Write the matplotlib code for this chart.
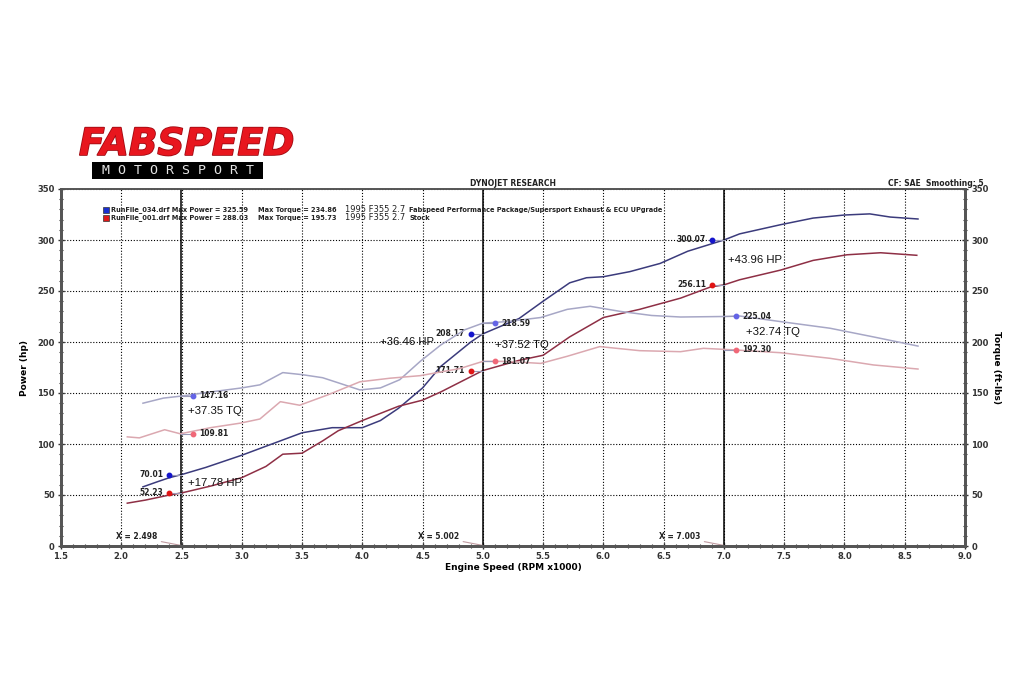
import matplotlib
matplotlib.use("Agg")
import matplotlib.pyplot as plt
import matplotlib.patheffects as pe
from matplotlib.patches import Rectangle
from matplotlib.ticker import MultipleLocator

# RunFile_034 (Fabspeed package) power curve, rpm x1000 / hp
mod_rpm_hp = [2.18, 2.3, 2.4, 2.5, 2.7, 3.0, 3.25, 3.5, 3.75, 4.0, 4.15, 4.3, 4.5, 4.65,
              4.9, 5.0, 5.3, 5.5, 5.72, 5.86, 6.0, 6.22, 6.47, 6.7, 7.0, 7.13, 7.47, 7.74,
              8.0, 8.21, 8.38, 8.61]
mod_hp = [58, 63, 67, 70, 77, 89, 100, 111, 116, 116, 123, 135, 155, 176,
          200, 208, 223, 240, 258, 263, 264, 269, 277, 289, 300, 306, 315, 321.5,
          324.5, 325.6, 322.5, 320.6]

# RunFile_001 (stock) power curve
stock_rpm_hp = [2.05, 2.2, 2.4, 2.5, 2.75, 3.0, 3.2, 3.34, 3.5, 3.67, 3.8, 4.0, 4.3, 4.5,
                4.65, 5.0, 5.3, 5.5, 5.72, 6.0, 6.3, 6.64, 6.89, 7.0, 7.13, 7.47, 7.74,
                8.02, 8.3, 8.6]
stock_hp = [42, 45, 50, 52, 59, 67, 78, 90, 91, 103, 113, 123, 137, 143,
            151, 172, 182, 187, 205, 224, 232, 243, 254, 256, 261, 270.5, 280,
            285.5, 287.5, 285]

# torque curves, ft-lbs
mod_rpm_tq = [2.18, 2.35, 2.5, 2.74, 3.0, 3.15, 3.34, 3.5, 3.67, 3.8, 3.98, 4.15, 4.31,
              4.48, 4.65, 4.85, 5.0, 5.2, 5.48, 5.7, 5.89, 6.14, 6.4, 6.64, 7.0, 7.13,
              7.47, 7.88, 8.24, 8.61]
mod_tq = [140, 145, 147, 151, 155, 158, 170, 168, 165, 160, 153, 155, 163,
          181, 197, 212, 218.5, 220, 224, 232, 235, 230, 226, 224.5, 225, 225.5,
          220, 213.5, 205, 196]

stock_rpm_tq = [2.05, 2.15, 2.36, 2.49, 2.74, 2.99, 3.15, 3.32, 3.48, 3.71, 3.98, 4.23,
                4.48, 4.81, 5.0, 5.2, 5.48, 5.7, 5.97, 6.3, 6.64, 6.83, 7.08, 7.47, 7.88,
                8.24, 8.61]
stock_tq = [107, 106, 114, 110, 116, 120.5, 124.5, 141.5, 138, 148, 161, 164.5,
            167, 174, 181, 181, 179, 186, 195.5, 191.5, 190.5, 193.8, 192.3, 189.5, 184,
            177.5, 173.5]

# cursor readouts
cursors = [2.498, 5.002, 7.003]
mod_hp_read = [70.01, 208.17, 300.07]
stock_hp_read = [52.23, 171.71, 256.11]
mod_tq_read = [147.16, 218.59, 225.04]
stock_tq_read = [109.81, 181.07, 192.30]
hp_gain = ["+17.78 HP", "+36.46 HP", "+43.96 HP"]
tq_gain = ["+37.35 TQ", "+37.52 TQ", "+32.74 TQ"]
hp_gain_pos = [(2.55, 62), (4.15, 200), (7.03, 280)]
tq_gain_pos = [(2.55, 132), (5.1, 197), (7.18, 210)]

C_MOD_HP = "#3b3b7c"
C_STOCK_HP = "#8e2f45"
C_MOD_TQ = "#a7a7c6"
C_STOCK_TQ = "#dba8b0"

fig = plt.figure(figsize=(10.24, 6.86), dpi=100)
ax = fig.add_axes([61 / 1024, 140 / 686, 904 / 1024, 357 / 686])
ax2 = ax.twinx()

for a in (ax, ax2):
    a.set_ylim(0, 350)
    a.yaxis.set_major_locator(MultipleLocator(50))
    a.yaxis.set_minor_locator(MultipleLocator(10))
ax.set_xlim(1.5, 9.0)
ax.xaxis.set_major_locator(MultipleLocator(0.5))
ax.xaxis.set_minor_locator(MultipleLocator(0.1))

tick_font = dict(fontsize=6, fontweight="bold", color="#222222")
ax.set_xticks([1.5 + 0.5 * i for i in range(16)])
ax.set_xticklabels(["%.1f" % (1.5 + 0.5 * i) for i in range(16)], **tick_font)
ax.set_yticks(range(0, 351, 50))
ax.set_yticklabels([str(v) for v in range(0, 351, 50)], **tick_font)
ax2.set_yticks(range(0, 351, 50))
ax2.set_yticklabels([str(v) for v in range(0, 351, 50)], **tick_font)

for a in (ax, ax2):
    a.tick_params(which="major", direction="inout", length=5, width=1, pad=2, colors="#333333")
    a.tick_params(which="minor", direction="inout", length=3, width=0.8, colors="#333333")
    for s in a.spines.values():
        s.set_color("#555555")
    a.spines["left"].set_linewidth(2)
    a.spines["bottom"].set_linewidth(2)
    a.spines["right"].set_linewidth(2)
    a.spines["top"].set_linewidth(1.2)

ax.grid(True, which="major", color="black", linestyle=(0, (1, 1.6)), linewidth=0.8)

ax.set_xlabel("Engine Speed (RPM x1000)", fontsize=6.5, fontweight="bold", labelpad=1)
ax.set_ylabel("Power (hp)", fontsize=6.5, fontweight="bold", labelpad=6)
ax2.set_ylabel("Torque (ft-lbs)", fontsize=6.5, fontweight="bold", rotation=-90, labelpad=9)

# curves
ax2.plot(mod_rpm_tq, mod_tq, color=C_MOD_TQ, lw=1.1)
ax2.plot(stock_rpm_tq, stock_tq, color=C_STOCK_TQ, lw=1.1)
ax.plot(mod_rpm_hp, mod_hp, color=C_MOD_HP, lw=1.1)
ax.plot(stock_rpm_hp, stock_hp, color=C_STOCK_HP, lw=1.1)

# cursor lines and readouts
lab_font = dict(fontsize=5.5, fontweight="bold", color="#222222", va="center")
for i, cx in enumerate(cursors):
    ax.axvline(cx, color="black", lw=1.1, zorder=3)
    ax.annotate("X = %.3f" % cx, xy=(cx, 0.5), xytext=(cx - 0.2, 9), textcoords="data",
                ha="right", va="center", fontsize=5.5, fontweight="bold", color="#222222",
                arrowprops=dict(arrowstyle="-", color="#c09aa0", lw=0.8, shrinkA=1, shrinkB=0))
    for val, col, side, a in ((mod_hp_read[i], "#1515cc", -1, ax),
                              (stock_hp_read[i], "#e01515", -1, ax),
                              (mod_tq_read[i], "#6464e6", 1, ax2),
                              (stock_tq_read[i], "#f06878", 1, ax2)):
        mx = cx + side * 0.1
        a.plot([mx, cx], [val, val], color="#9a9ab8", lw=0.8, zorder=4)
        a.plot([mx], [val], "o", color=col, ms=3.2, zorder=5)
        if side < 0:
            a.text(mx - 0.05, val, "%.2f" % val, ha="right", **lab_font)
        else:
            a.text(mx + 0.05, val, "%.2f" % val, ha="left", **lab_font)
    ax.text(hp_gain_pos[i][0], hp_gain_pos[i][1], hp_gain[i], fontsize=8.2,
            family="Liberation Sans", color="#111111", va="center", ha="left")
    ax.text(tq_gain_pos[i][0], tq_gain_pos[i][1], tq_gain[i], fontsize=8.2,
            family="Liberation Sans", color="#111111", va="center", ha="left")

# run legend inside plot
leg_font = dict(fontsize=4.8, fontweight="bold", color="#222222", va="center",
                transform=fig.transFigure)
rows = [("#1a2fd0", 1 - 210 / 686, "RunFile_034.drf Max Power = 325.59", "Max Torque = 234.86",
         "Fabspeed Performance Package/Supersport Exhaust & ECU UPgrade"),
        ("#e01818", 1 - 217.5 / 686, "RunFile_001.drf Max Power = 288.03", "Max Torque = 195.73",
         "Stock")]
for col, yy, t1, t2, t3 in rows:
    fig.patches.append(Rectangle((103 / 1024, yy - 3 / 686), 6 / 1024, 6 / 686,
                                 transform=fig.transFigure, facecolor=col,
                                 edgecolor="#333333", lw=0.5))
    fig.text(111 / 1024, yy, t1, **leg_font)
    fig.text(258 / 1024, yy, t2, **leg_font)
    fig.text(345 / 1024, yy, "1995 F355 2.7", fontsize=6, color="#222222", va="center")
    fig.text(409 / 1024, yy, t3, **leg_font)

fig.text(513 / 1024, 1 - 184 / 686, "DYNOJET RESEARCH", fontsize=5.5, fontweight="bold",
         ha="center", va="center", color="#222222")
fig.text(984 / 1024, 1 - 183 / 686, "CF: SAE  Smoothing: 5", fontsize=5.5,
         fontweight="bold", ha="right", va="center", color="#222222")

# logo
logo = fig.text(79 / 1024, 1 - 145 / 686, "FABSPEED", fontsize=27, fontweight="heavy",
                style="italic", color="#e8161e", ha="left", va="center",
                family="DejaVu Sans")
logo.set_path_effects([pe.withStroke(linewidth=1.2, foreground="#a00a12")])
fig.patches.append(Rectangle((92 / 1024, 1 - 179 / 686), 171 / 1024, 17 / 686,
                             transform=fig.transFigure, facecolor="black", edgecolor="none"))
fig.text(178 / 1024, 1 - 170.5 / 686, "M O T O R S P O R T", fontsize=9.5,
         color="#e4e4e4", ha="center", va="center", family="DejaVu Sans Mono")

fig.savefig("out.png", dpi=100, facecolor="white")
